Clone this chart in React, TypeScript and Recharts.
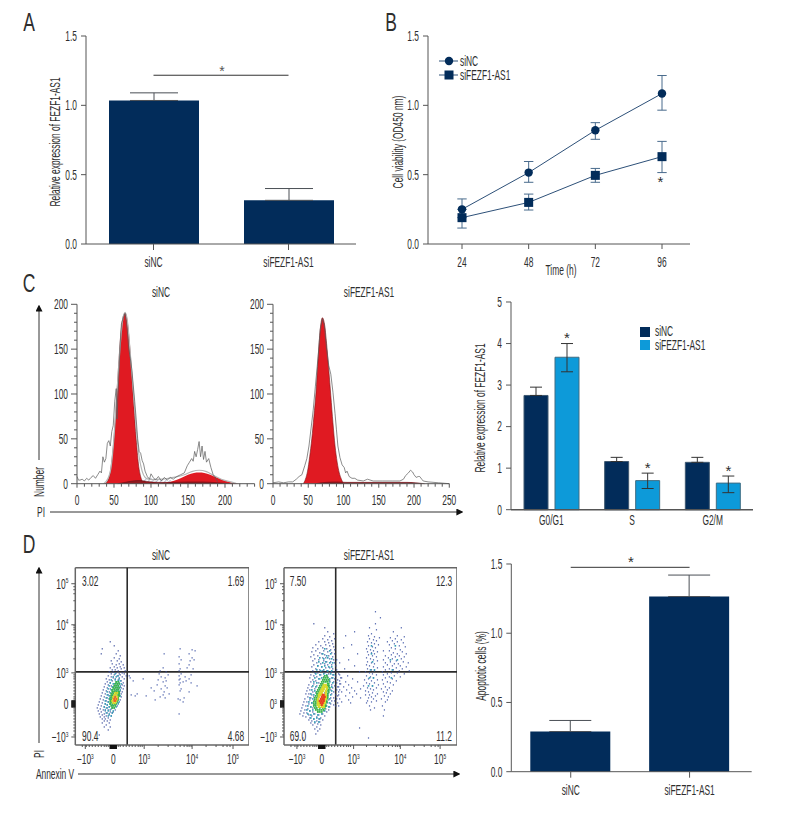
import React from 'react';
import {
  BarChart,
  Bar,
  LineChart,
  Line,
  ComposedChart,
  Area,
  ScatterChart,
  Scatter,
  XAxis,
  YAxis,
  ErrorBar,
  ReferenceLine,
  ReferenceDot,
  LabelList
} from 'recharts';

const FONT = '"Liberation Sans", sans-serif';
const INK = '#2e2e2e';
const AXIS = '#555';
const NAVY = '#022c5a';
const BLUE = '#0d9ad9';
const RED = '#e01a22';

// panel A
const exprGroups = ['siNC', 'siFEZF1-AS1'];
const exprMeans = [1.035, 0.315];
const exprTops = [1.09, 0.4];

// panel B
const hours = ['24', '48', '72', '96'];
const ncViability = [0.25, 0.515, 0.82, 1.085];
const ncLow = [0.19, 0.445, 0.755, 0.965];
const ncHigh = [0.325, 0.595, 0.875, 1.215];
const kdViability = [0.19, 0.3, 0.495, 0.63];
const kdLow = [0.115, 0.245, 0.445, 0.515];
const kdHigh = [0.25, 0.36, 0.545, 0.74];

// panel C, cell cycle histograms
const g1X = [38, 42, 45, 48, 50, 53, 56, 59, 62, 65, 68, 71, 74, 77, 80, 83, 86, 90];
const g1Y = [0, 4, 13, 32, 50, 88, 128, 165, 185, 190, 180, 155, 122, 85, 50, 22, 8, 0];
const g2X = [110, 120, 130, 140, 150, 158, 165, 172, 180, 190, 200, 210, 218];
const g2Y = [0, 1, 3, 6, 10, 12, 12.5, 12, 10, 6.5, 3.5, 1, 0];
const sPhaseX = [55, 65, 75, 85, 95, 110, 130, 150, 170, 190, 210];
const sPhaseY = [0, 1.5, 3, 3.5, 2.5, 1.5, 1.5, 2, 2, 1, 0];
const hatchX = [84, 90, 96, 102, 110, 118, 126, 134];
const hatchY = [0, 6, 7, 6, 5.5, 5, 4, 0];
const fitX = [36, 42, 46, 50, 54, 58, 62, 65, 68, 72, 76, 80, 84, 88, 92, 96, 102, 115, 130, 145, 155, 165, 175, 185, 195, 205, 215];
const fitY = [0, 6, 18, 52, 102, 150, 184, 191, 182, 145, 104, 62, 30, 14, 7, 5, 4.5, 5, 7, 10, 13.5, 15, 13.5, 9, 5, 2.5, 0.5];
const rawNcX = [0, 2, 4, 7, 10, 13, 16, 19, 22, 25, 28, 31, 33, 35, 37, 39, 41, 43, 45, 47, 49, 51, 53, 54, 56, 58, 60, 63, 65, 68, 70, 72, 74, 76, 78, 80, 82, 84, 86, 88, 90, 92, 95, 98, 100, 103, 106, 110, 114, 118, 122, 126, 130, 135, 140, 145, 149, 152, 155, 157, 159, 161, 163, 165, 167, 169, 171, 173, 175, 178, 181, 184, 186, 190];
const rawNcY = [8, 4, 4, 5, 3, 6, 4, 7, 9, 6, 10, 14, 12, 30, 24, 28, 45, 48, 42, 58, 65, 92, 106, 72, 110, 150, 178, 186, 190, 170, 150, 140, 128, 110, 92, 72, 50, 36, 34, 26, 22, 14, 8, 5, 11, 7, 4, 8, 3, 7, 4, 7, 5, 8, 10, 12, 20, 24, 28, 25, 36, 30, 38, 47, 30, 42, 27, 36, 24, 28, 18, 10, 8, 2];
const g1KdX = [43, 46, 49, 52, 55, 58, 61, 64, 67, 70, 73, 76, 79, 82, 85, 88, 91, 94, 97, 100];
const g1KdY = [0, 5, 14, 30, 50, 75, 102, 140, 172, 185, 178, 156, 128, 98, 68, 42, 24, 12, 5, 0];
const sPhaseKdX = [60, 75, 90, 105, 130, 160, 190, 215];
const sPhaseKdY = [0, 1.5, 2, 1.5, 1.5, 1.5, 1.5, 0];
const rawKdX = [0, 8, 15, 22, 28, 33, 37, 41, 45, 48, 51, 54, 57, 60, 64, 67, 70, 73, 76, 79, 82, 85, 88, 90, 92, 95, 98, 101, 103, 105, 108, 112, 116, 120, 128, 134, 142, 155, 170, 180, 185, 188, 192, 195, 198, 200, 203, 206, 208, 211, 213, 220, 235, 250];
const rawKdY = [1, 2, 1, 2, 2, 5, 8, 10, 20, 28, 42, 62, 82, 108, 142, 172, 184, 176, 150, 132, 122, 102, 78, 60, 42, 29, 21, 18, 12, 14, 8, 6, 6, 4, 3, 5, 3, 3, 3, 3, 5, 9, 12, 15, 13, 10, 7, 8, 8, 5, 3, 2, 1, 0];
const histTicksY = [0, 10, 20, 30, 40, 50, 60, 70, 80, 90, 100, 110, 120, 130, 140, 150, 160, 170, 180, 190, 200];
const histTicksNcX = [0, 10, 20, 30, 40, 50, 60, 70, 80, 90, 100, 110, 120, 130, 140, 150, 160, 170, 180, 190, 200, 210, 220, 230, 240];
const histTicksKdX = [...histTicksNcX, 250];

// panel C, phase bars
const phases = ['G0/G1', 'S', 'G2/M'];
const phaseNc = [2.75, 1.16, 1.14];
const phaseNcTop = [2.95, 1.26, 1.26];
const phaseKd = [3.67, 0.7, 0.64];
const phaseKdLow = [3.32, 0.51, 0.41];
const phaseKdTop = [4.0, 0.88, 0.81];

// panel D, flow plots: positions on the display channel of the biexponential axis
const flowMajorXNc = [-28, 0, 31, 79, 120];
const flowMajorXKd = [-25, 0, 32, 79, 119];
const flowMajorY = [-33, 0, 31, 79, 120];
const flowMinor = [-31, -27, -24, -21, -18, -15, -12, -9, -7, -5, -3, -2, -1, 1, 2, 3, 5, 7, 10, 13, 16, 19, 22, 25, 27, 29, 45, 55, 62, 67, 71, 74, 76, 78, 93, 103, 110, 114, 117];
const gateX = 14;
const gateY = 32;

type Row = [number, number[]];
const ncBlue: Row[] = [
  [62, [-3]], [58, [1]], [55, [-11]], [53, [5]], [50, [-12, 3]], [48, [7]], [46, [1]], [45, [6]], [43, [-2, 4]], [42, [8]], [40, [-1, 6]], [39, [3, 10]],
  [37, [1, 7]], [36, [-3, 4, 11]], [35, [8]], [34, [-1, 2]], [33, [5, 12]], [32, [-4, 0]], [31, [3, 9]], [30, [-2, 6, 11]], [29, [1, 7]], [28, [-5, 4, 13]],
  [27, [-2, 9]], [26, [0, 6]], [25, [-7, 2, 11]], [24, [-4, 5]], [23, [-1, 8]], [22, [-6, 3]], [21, [-3, 6, 10]], [20, [-8, 1]], [19, [-5, 4, 9]], [18, [-2, 7, 11]],
  [17, [-9, 0]], [16, [-6, 3, 8]], [15, [-3, 5, 10]], [14, [-10, -1]], [13, [-7, 2, 7]], [12, [-4, 5, 9]], [11, [-11, -1]], [10, [-8, 3, 8]], [9, [-5, 0, 6]],
  [8, [-12, -3]], [7, [-9, 2, 8]], [6, [-6, -1, 5]], [5, [-13, -4]], [4, [-10, 1, 7]], [3, [-7, -2, 4]], [2, [-14, -5]], [1, [-11, 0, 5]], [0, [-8, -3]],
  [-1, [-15, -6, 2]], [-2, [-12, -1, 4]], [-3, [-9, -4]], [-4, [-16, -7, 1]], [-5, [-13, -2]], [-6, [-10, -5, 2]], [-7, [-15, -8]], [-8, [-12, -3, 0]],
  [-9, [-6, -1]], [-10, [-14, -9]], [-11, [-11, -4]], [-12, [-7, -2]], [-13, [-13, -9]], [-14, [-5]], [-15, [-11, -8]], [-16, [-3]], [-17, [-9, -6]],
  [-19, [-11, -4]], [-21, [-7]], [-23, [-9, -3]], [-26, [-5]], [-31, [-14]]
];
const ncSparse: Row[] = [
  [55, [67]], [54, [79]], [53, [82]], [50, [51, 76]], [47, [66]], [46, [79]], [44, [68, 81]], [43, [77]], [40, [66]], [39, [76]], [36, [50, 74]], [35, [67, 80]],
  [33, [47, 66]], [32, [53]], [30, [46, 68]], [29, [55, 78]], [28, [16, 66]], [27, [48, 72]], [26, [17, 52]], [25, [30, 67, 76]], [24, [45, 66]], [23, [20, 53, 73]],
  [22, [50, 70]], [21, [67, 78]], [19, [44, 66]], [18, [52, 84]], [16, [38, 54]], [15, [48, 68]], [13, [41, 67]], [12, [51, 76]], [10, [24, 56]], [9, [18, 50]],
  [8, [22, 33]], [7, [47]], [6, [52, 71]], [5, [65]], [4, [42, 67]], [2, [70]], [-10, [66]]
];
const ncCyan: Row[] = [
  [30, [2]], [28, [5]], [27, [0, 3]], [25, [6]], [24, [-2, 2]], [23, [5, 7]], [21, [-3, 3]], [20, [0, 6, 8]], [18, [-4, 2]], [17, [-1, 5, 7]], [15, [-5, 1]], [14, [-2, 4, 7]],
  [12, [-6, 0]], [11, [-3, 3, 6]], [9, [-6, -1, 5]], [8, [-4, 2, 7]], [6, [-7, -2, 1]], [5, [-4, 5]], [3, [-8, -2]], [2, [-5, 6]], [0, [-8, -3, 5]], [-1, [-6, -1]],
  [-3, [-9, -4, 3]], [-4, [-6, -1]], [-6, [-8, -3]], [-7, [-5, 0]], [-9, [-7, -1]], [-10, [-4]], [-12, [-5, -2]]
];
const ncGreen: Row[] = [
  [22, [3, 5]], [20, [2, 4, 6]], [18, [1, 3, 5]], [16, [0, 2, 4, 6]], [14, [-1, 1, 3, 5]], [12, [-1, 1, 3, 5, 6]],
  [10, [-2, 0, 3, 5, 6]], [8, [-2, -1, 5, 6]], [6, [-3, -1, 5]], [4, [-3, -2, 5]], [2, [-3, -2, 4]], [0, [-3, -1, 1, 3]],
  [-2, [-2, 0, 2]], [-4, [-1, 1]]
];
const ncYellow: Row[] = [[11, [2, 4]], [9, [1, 3]], [7, [0, 4]], [5, [0, 4]], [3, [-1, 3]], [1, [0, 2]]];
const ncRed: Row[] = [[7, [2]], [5, [1, 3]], [3, [1, 2]]];

const kdBlue: Row[] = [
  [80, [-8]], [76, [3]], [72, [6]], [70, [12]], [68, [3]], [67, [8]], [65, [1, 13]], [64, [6]], [63, [10]], [62, [-3, 3]], [61, [7]], [60, [11]], [59, [-6, 4]],
  [58, [-1, 8]], [57, [12]], [56, [-9, 1]], [55, [5, -4]], [54, [9, 13]], [53, [-6, 2]], [52, [-10, 6]], [51, [-2, 10]], [50, [0, 13]], [49, [-8, 3]], [48, [-4, 7]],
  [47, [11, -11]], [46, [1, 4]], [45, [-7, 8]], [44, [-3, 12, 15]], [43, [-9, 2]], [42, [5, 9]], [41, [-5, 13]], [40, [-1, 3]], [39, [-8, 6, 10]], [38, [-4, 14]],
  [37, [0, -10]], [36, [4, 8]], [35, [-6, 11]], [34, [-2, 15]], [33, [-9, 1, 5]], [32, [9, 12]], [31, [-7, -4, 3]], [30, [7, 17]], [29, [-11, -1, 11]], [28, [-8, 14]],
  [27, [-5, 2, 6]], [26, [10, 19, -12]], [25, [-2, 13]], [24, [-9, 1, 16]], [23, [-6, 5, 8]], [22, [-11, 12]], [21, [-3, 15]], [20, [-8, 0, 18]], [19, [-13, 4, 10]],
  [18, [-5, 7, 13]], [17, [-10, 16]], [16, [-14, -2, 11]], [15, [-7, 5]], [14, [-12, 9, 15]], [13, [-4, -15]], [12, [-9, 12, 17]], [11, [-6, 3, 7]], [10, [-16, -13, 10]],
  [9, [-10, 14]], [8, [-4, 16, 6]], [7, [-14, -8]], [6, [-11, 12, 9]], [5, [-17, -5, 15]], [4, [-12, 7]], [3, [-8, 10, 13]], [2, [-18, -15]], [1, [-10, -6, 6, 16]],
  [0, [-13, 9]], [-1, [-19, -7, 12]], [-2, [-16, 5, 14]], [-3, [-11, 8]], [-4, [-20, -9]], [-5, [-14, -6, 4]], [-6, [-17, 7]], [-7, [-21, -12, 2]], [-8, [-9, -4, 5]],
  [-9, [-18, -15]], [-10, [-22, -7, 1]], [-11, [-13, -3]], [-12, [-19, -10, 3]], [-13, [-16, -5]], [-14, [-12, -1]], [-15, [-8, -3]], [-16, [-13, 1]], [-17, [-10, -5]],
  [-18, [-2]], [-19, [-11, -7]], [-20, [-4]], [-21, [-9, -1]], [-23, [-5]], [-25, [-7, -2]], [-27, [-4]], [-30, [-6]], [-34, [-19]]
];
const kdRight: Row[] = [
  [92, [54]], [86, [59]], [80, [54]], [76, [48, 80]], [74, [55]], [72, [33, 72]], [70, [50]], [68, [24, 47, 76]], [67, [53, 83]], [66, [58, 69]], [65, [48, 74]], [64, [52, 80]],
  [63, [55, 71]], [62, [46, 66, 76]], [61, [50, 82]], [60, [53, 73]], [59, [30, 57, 68]], [58, [47, 78]], [57, [51, 84]], [56, [22, 54, 70]], [55, [45, 74]], [54, [49, 79]],
  [53, [52, 62, 68]], [52, [46, 56, 81]], [51, [50, 72]], [50, [36, 53, 76, 85]], [49, [47, 70]], [48, [51, 78, 64]], [47, [55, 74, 83]], [46, [45, 67]], [45, [49, 71, 80]],
  [44, [27, 52, 62]], [43, [56, 75]], [42, [46, 69, 82]], [41, [18, 50, 64, 87]], [40, [53, 73, 77]], [39, [45, 66]], [38, [33, 48, 71, 79]], [37, [52, 62, 85]], [36, [56, 75]],
  [35, [23, 46, 68, 81]], [34, [50, 64, 72]], [33, [53, 78, 88]], [32, [38, 44, 61]], [31, [48, 70, 76]], [30, [51, 66, 83]], [29, [18, 55, 62]], [28, [26, 45, 73]], [27, [49, 68, 79]],
  [26, [20, 52, 64]], [25, [31, 47, 71]], [24, [43, 56, 61]], [23, [18, 50, 75]], [22, [24, 36, 66]], [21, [45, 53, 69]], [20, [19, 48, 62]], [19, [27, 57, 72]], [18, [42, 51]],
  [17, [17, 22, 64]], [16, [30, 46, 55, 68]], [15, [39, 49, 60]], [14, [18, 25, 52, 66]], [13, [33, 44, 71]], [12, [20, 47, 62]], [11, [28, 51, 65]], [10, [35, 56, 69]],
  [9, [17, 44, 48]], [8, [24, 54, 63]], [7, [31, 50, 67]], [6, [39, 47]], [5, [18, 52, 60]], [4, [27, 66]], [3, [46, 55]], [2, [20, 50, 64]], [1, [29, 45]],
  [-2, [17, 48, 61]], [-4, [53]], [-6, [49, 63]], [-12, [62]], [-24, [38]], [-34, [47]]
];
const kdCyan: Row[] = [
  [55, [3]], [53, [8]], [50, [1, 9]], [48, [5]], [46, [-2, 6]], [45, [2, 10]], [42, [-3, 4]], [41, [1, 8, 11]], [38, [-4, 3]], [37, [0, 7, 10]], [34, [-5, 2]], [33, [-1, 6, 10]],
  [30, [-6, 2, 9]], [29, [-2, 5, 12]], [26, [-7, 0, 11]], [25, [-3, 8]], [22, [-8, 8]], [21, [-5, 11]], [18, [-9, 7]], [17, [-6, 10]], [14, [-10, 7]], [13, [-7, 10]],
  [10, [-11, 6]], [9, [-8, 9]], [6, [-12, 5]], [5, [-9, 8]], [2, [-13, 5]], [1, [-10, 8]], [-2, [-14, 4]], [-3, [-11, 7]], [-6, [-15, -9]], [-7, [-12, 3]], [-10, [-14, -8, 0]],
  [-11, [-11, -4]], [-14, [-11, -5]], [-15, [-8, -2]], [-18, [-7, -3]],
  [58, [50, 74]], [50, [50]], [44, [69, 76]], [42, [51]], [34, [49, 53, 71]], [26, [48, 52, 70]], [18, [47, 51]]
];
const kdGreen: Row[] = [
  [28, [3, 5]], [26, [2, 4, 6]], [24, [1, 3, 5, 7]], [22, [0, 2, 4, 6]], [20, [-1, 1, 6, 7]], [18, [-2, 0, 6, 7]], [16, [-3, -1, 6, 8]], [14, [-4, -2, 6, 7]],
  [12, [-5, -3, 5, 7]], [10, [-5, -4, 6]], [8, [-6, -4, 5, 6]], [6, [-7, -5, 5, 6]], [4, [-7, -5, 5]], [2, [-8, -6, 5]], [0, [-8, -6, 4]], [-2, [-8, -6, 3, 4]],
  [-4, [-7, -5, -2, 1, 3]], [-6, [-6, -4, -2, 0, 2]], [-8, [-4, -2, 0]]
];
const kdYellow: Row[] = [
  [19, [2, 4]], [17, [1, 3, 5]], [15, [0, 2, 5]], [13, [-1, 1, 4]], [11, [-2, 0, 4]], [9, [-3, -1, 4]], [7, [-3, 4]], [5, [-4, 3, 4]], [3, [-4, 3]],
  [1, [-4, -2, 3]], [-1, [-4, -2, 2]], [-3, [-3, 0, 2]]
];
const kdRed: Row[] = [[9, [1, 2]], [7, [0, 2, 3]], [5, [-1, 1, 2]], [3, [-2, 0, 2]], [1, [-1, 1]], [-1, [0]]];

// panel D, apoptosis bars
const apopMeans = [0.29, 1.265];
const apopTops = [0.37, 1.42];

const zip = (xs: number[], ys: number[]) => xs.map((x, i) => ({ x, y: ys[i] }));
const flatten = (rows: Row[]) => rows.flatMap(([y, xs]) => xs.map((x) => ({ x, y })));

const exprData = exprGroups.map((name, i) => ({ name, value: exprMeans[i], top: exprTops[i] }));
const apopData = exprGroups.map((name, i) => ({ name, value: apopMeans[i], top: apopTops[i] }));
const viabilityData = hours.map((time, i) => ({
  time,
  nc: ncViability[i],
  ncErr: [ncViability[i] - ncLow[i], ncHigh[i] - ncViability[i]],
  kd: kdViability[i],
  kdErr: [kdViability[i] - kdLow[i], kdHigh[i] - kdViability[i]]
}));
const phaseData = phases.map((name, i) => ({
  name,
  nc: phaseNc[i],
  ncErr: [0, phaseNcTop[i] - phaseNc[i]],
  kd: phaseKd[i],
  kdErr: [phaseKd[i] - phaseKdLow[i], phaseKdTop[i] - phaseKd[i]]
}));

// no condensed face is installed, so squeeze Liberation Sans horizontally
const Cond = ({ x, y, children, size = 14, anchor = 'middle', rotate = 0, fill = INK, sx = 0.6 }: any) => (
  <text
    transform={`translate(${x} ${y}) rotate(${rotate}) scale(${sx} 1)`}
    textAnchor={anchor}
    dominantBaseline="central"
    fontSize={size}
    fontFamily={FONT}
    fill={fill}
  >
    {children}
  </text>
);

const yTick = (majors: number[], fmt: (v: number) => any = String, len = 5, minor = 3, gap = 4, blob = false) => (p: any) => {
  const v = p.payload.value;
  const isMajor = majors.includes(v);
  const near = blob && Math.abs(v) <= 3;
  return (
    <g>
      <line
        x1={p.x}
        x2={p.x - (isMajor ? len : near ? 4 : minor)}
        y1={p.y}
        y2={p.y}
        stroke={near ? '#111' : AXIS}
        strokeWidth={near ? 1.5 : 1}
      />
      {isMajor && <Cond x={p.x - len - gap} y={p.y} anchor="end">{fmt(v)}</Cond>}
    </g>
  );
};

const xTick = (majors: any[] | null, fmt: (v: any) => any = String, len = 5, minor = 3, labelAt = 16, blob = false) => (p: any) => {
  const v = p.payload.value;
  const isMajor = majors ? majors.includes(v) : true;
  const near = blob && Math.abs(v) <= 3;
  return (
    <g>
      {len > 0 && (
        <line
          x1={p.x}
          x2={p.x}
          y1={p.y}
          y2={p.y + (isMajor ? len : near ? 4 : minor)}
          stroke={near ? '#111' : AXIS}
          strokeWidth={near ? 1.5 : 1}
        />
      )}
      {isMajor && <Cond x={p.x} y={p.y + labelAt}>{fmt(v)}</Cond>}
    </g>
  );
};

const Pow = ({ base, exp }: any) => (
  <>
    <tspan>{base}</tspan>
    {exp && <tspan dy={-4} fontSize={8}>{exp}</tspan>}
  </>
);
const powerX = (majors: number[]) => (v: number) => {
  const i = majors.indexOf(v);
  return i === 1 ? '0' : <Pow base={i === 0 ? '\u221210' : '10'} exp={['3', '', '3', '4', '5'][i]} />;
};
const powerYNc = (v: number) => {
  const i = flowMajorY.indexOf(v);
  return i === 1 ? '0' : <Pow base={i === 0 ? '\u221210' : '10'} exp={['3', '', '3', '4', '5'][i]} />;
};
const powerYKd = (v: number) => {
  const i = flowMajorY.indexOf(v);
  return <Pow base={i === 0 ? '\u221210' : i === 1 ? '0' : '10'} exp={['3', '3', '3', '4', '5'][i]} />;
};

const StarLabel = (tops: number[], means: number[], pxPerUnit: number) => (p: any) => {
  const box = p.viewBox || p;
  const cx = box.x + box.width / 2;
  const cy = box.y - (tops[p.index] - means[p.index]) * pxPerUnit - 6;
  return <Cond x={cx} y={cy} size={15} sx={1}>*</Cond>;
};

const dotShape = (size: number) => (p: any) => (
  <rect x={p.cx - size / 2} y={p.cy - size / 2} width={size} height={size} fill={p.fill} />
);

const CircleDot = (p: any) => <circle cx={p.cx} cy={p.cy} r={4.2} fill={NAVY} />;
const SquareDot = (p: any) => <rect x={p.cx - 4.5} y={p.cy - 4.5} width={9} height={9} fill={NAVY} />;

const place = (left: number, top: number): React.CSSProperties => ({ position: 'absolute', left, top });

const BarPanel = ({ data, left, top, height, width, yWidth, ticks, bracketY, capWidth, padRight = 0 }: any) => (
  <div style={place(left, top)}>
    <BarChart width={width} height={height} data={data} margin={{ top: 10, right: 0, left: 0, bottom: 0 }}>
      <XAxis
        dataKey="name"
        height={30}
        stroke={AXIS}
        tickLine={false}
        tickSize={0}
        tickMargin={0}
        interval={0}
        padding={{ left: 0, right: padRight }}
        tick={xTick(null, String, 6, 3, 18)}
      />
      <YAxis
        width={yWidth}
        domain={[0, 1.5]}
        ticks={ticks}
        stroke={AXIS}
        tickLine={false}
        tickSize={0}
        tickMargin={0}
        interval={0}
        tick={yTick(ticks, (v) => v.toFixed(1))}
      />
      <Bar dataKey="value" fill={NAVY} barSize={capWidth.bar} isAnimationActive={false}>
        <ErrorBar dataKey={(d: any) => [0, d.top - d.value]} width={capWidth.cap} stroke="#4a4f55" strokeWidth={1} />
      </Bar>
      <ReferenceLine
        segment={[{ x: data[0].name, y: bracketY }, { x: data[1].name, y: bracketY }]}
        stroke="#333"
        strokeWidth={1}
      />
    </BarChart>
  </div>
);

const Histogram = ({ left, width, yWidth, domainMax, xTicks, red, dark, hatch, fit, raw, id, extra }: any) => (
  <div style={place(left, 296)}>
    <ComposedChart width={width} height={217.7} margin={{ top: 8.3, right: 14, left: 0, bottom: 0 }}>
      <defs>
        <pattern id={id} width="3" height="3" patternUnits="userSpaceOnUse" patternTransform="rotate(45)">
          <rect width="3" height="3" fill="#fff" />
          <line x1="0" y1="0" x2="0" y2="3" stroke="#6f7fa8" strokeWidth="1" />
        </pattern>
      </defs>
      <XAxis
        type="number"
        dataKey="x"
        domain={[0, domainMax]}
        ticks={xTicks}
        height={30}
        stroke={AXIS}
        tickLine={false}
        tickSize={0}
        tickMargin={0}
        interval={0}
        tick={xTick([0, 50, 100, 150, 200, 250], String, 4, 3, 16)}
      />
      <YAxis
        type="number"
        dataKey="y"
        width={yWidth}
        domain={[0, 200]}
        ticks={histTicksY}
        stroke={AXIS}
        tickLine={false}
        tickSize={0}
        tickMargin={0}
        interval={0}
        tick={yTick([0, 50, 100, 150, 200], String, 6, 3, 3)}
      />
      {hatch && <Area data={hatch} dataKey="y" type="monotone" stroke="none" fill={`url(#${id})`} fillOpacity={1} dot={false} isAnimationActive={false} />}
      <Area data={red} dataKey="y" type="monotone" stroke="#7a1418" strokeWidth={0.6} fill={RED} fillOpacity={1} dot={false} isAnimationActive={false} />
      {extra && <Area data={extra} dataKey="y" type="monotone" stroke="none" fill={RED} fillOpacity={1} dot={false} isAnimationActive={false} />}
      <Area data={dark} dataKey="y" type="monotone" stroke="#5d0f14" strokeWidth={0.5} fill="#8f1a20" fillOpacity={1} dot={false} isAnimationActive={false} />
      {fit && <Line data={fit} dataKey="y" type="monotone" stroke="#b5b5b5" strokeWidth={1.2} dot={false} isAnimationActive={false} />}
      <Line data={raw} dataKey="y" type="linear" stroke="#5a5a5a" strokeWidth={0.7} dot={false} isAnimationActive={false} />
    </ComposedChart>
  </div>
);

const flowLayers = (layers: [Row[], string, number][]) =>
  layers.map(([rows, color, size], i) => (
    <Scatter key={i} data={flatten(rows)} fill={color} shape={dotShape(size)} isAnimationActive={false} />
  ));

const FlowPlot = ({ left, yWidth, width, majorsX, powerY, layers, labels }: any) => (
  <div style={place(left, 558)}>
    <ScatterChart width={width} height={217} margin={{ top: 9.7, right: 0, left: 0, bottom: 0 }}>
      <XAxis
        type="number"
        dataKey="x"
        domain={[-38, 136]}
        ticks={[...majorsX, ...flowMinor]}
        height={30}
        stroke="#666"
        strokeWidth={1.5}
        tickLine={false}
        tickSize={0}
        tickMargin={0}
        interval={0}
        tick={xTick(majorsX, powerX(majorsX), 4, 2, 14, true)}
      />
      <YAxis
        type="number"
        dataKey="y"
        width={yWidth}
        domain={[-41, 136]}
        ticks={[...flowMajorY, ...flowMinor.filter((v) => v > -41)]}
        stroke="#666"
        strokeWidth={1.5}
        tickLine={false}
        tickSize={0}
        tickMargin={0}
        interval={0}
        tick={yTick(flowMajorY, powerY, 4, 2, 3, true)}
      />
      {flowLayers(layers)}
      <ReferenceLine x={136} stroke="#666" strokeWidth={1.5} />
      <ReferenceLine y={136} stroke="#666" strokeWidth={1.5} />
      <ReferenceLine x={gateX} stroke="#2b2b2b" strokeWidth={1.6} />
      <ReferenceLine y={gateY} stroke="#2b2b2b" strokeWidth={1.6} />
      {labels.map((l: any) => (
        <ReferenceDot
          key={l.text}
          x={l.x}
          y={l.y}
          r={0}
          stroke="none"
          label={(p: any) => <Cond x={p.viewBox.x + p.viewBox.width / 2} y={p.viewBox.y + p.viewBox.height / 2}>{l.text}</Cond>}
        />
      ))}
    </ScatterChart>
  </div>
);

const Overlay = () => (
  <svg width={786} height={828} style={{ position: 'absolute', left: 0, top: 0, pointerEvents: 'none' }}>
    <defs>
      <marker id="arrow" viewBox="0 0 10 10" refX="8" refY="5" markerWidth="7" markerHeight="7" orient="auto-start-reverse">
        <path d="M0 0 L10 5 L0 10 Z" fill="#111" />
      </marker>
    </defs>
    <Cond x={29} y={22} size={25} sx={0.7}>A</Cond>
    <Cond x={391} y={22} size={25} sx={0.7}>B</Cond>
    <Cond x={29} y={283} size={25} sx={0.7}>C</Cond>
    <Cond x={29} y={544} size={25} sx={0.7}>D</Cond>

    <Cond x={55} y={142} rotate={-90}>Relative expression of FEZF1-AS1</Cond>
    <Cond x={398} y={142} rotate={-90}>Cell viability (OD450 nm)</Cond>
    <Cond x={561} y={270}>Time (h)</Cond>
    <Cond x={480} y={408} rotate={-90}>Relative expression of FEZF1-AS1</Cond>
    <Cond x={481} y={666} rotate={-90}>Apoptotic cells (%)</Cond>

    <Cond x={222} y={71} size={14} sx={1} fill="#555">*</Cond>
    <Cond x={631} y={561} size={15} sx={1}>*</Cond>
    <Cond x={660.5} y={181} size={15} sx={1}>*</Cond>

    <line x1={439} x2={458} y1={61} y2={61} stroke="#2d5078" />
    <circle cx={449} cy={61} r={4.2} fill={NAVY} />
    <Cond x={460} y={61} anchor="start">siNC</Cond>
    <line x1={439} x2={458} y1={75} y2={75} stroke="#2d5078" />
    <rect x={444.5} y={70.5} width={9} height={9} fill={NAVY} />
    <Cond x={460} y={75} anchor="start">siFEZF1-AS1</Cond>

    <rect x={640} y={327} width={10} height={10} fill={NAVY} />
    <Cond x={655} y={331} anchor="start">siNC</Cond>
    <rect x={640} y={340} width={10} height={10} fill={BLUE} />
    <Cond x={655} y={345} anchor="start">siFEZF1-AS1</Cond>

    <Cond x={161} y={292}>siNC</Cond>
    <Cond x={369} y={292}>siFEZF1-AS1</Cond>
    <Cond x={161} y={555}>siNC</Cond>
    <Cond x={369} y={555}>siFEZF1-AS1</Cond>

    <line x1={39} x2={39} y1={460} y2={306} stroke="#333" markerEnd="url(#arrow)" />
    <Cond x={39} y={482} rotate={-90}>Number</Cond>
    <Cond x={41} y={512}>PI</Cond>
    <line x1={50} x2={462} y1={512} y2={512} stroke="#333" markerEnd="url(#arrow)" />

    <line x1={39} x2={39} y1={743} y2={568} stroke="#333" markerEnd="url(#arrow)" />
    <Cond x={39} y={754} rotate={-90}>PI</Cond>
    <Cond x={55} y={774}>Annexin V</Cond>
    <line x1={78} x2={459} y1={774} y2={774} stroke="#333" markerEnd="url(#arrow)" />
  </svg>
);

const App: React.FC = () => {
  const yTicksExpr = [0, 0.5, 1, 1.5];
  const yTicksPhase = [0, 1, 2, 3, 4, 5];
  return (
    <div style={{ position: 'absolute', left: 0, top: 0, width: 786, height: 828, background: '#fff' }}>
      <BarPanel
        data={exprData}
        left={36}
        top={26}
        width={320}
        height={248}
        yWidth={50}
        ticks={yTicksExpr}
        bracketY={1.217}
        capWidth={{ bar: 90, cap: 24 }}
      />

      <div style={place(378, 26)}>
        <LineChart width={312} height={248} data={viabilityData} margin={{ top: 10, right: 0, left: 0, bottom: 0 }}>
          <XAxis
            dataKey="time"
            height={30}
            stroke={AXIS}
            tickLine={false}
            tickSize={0}
            tickMargin={0}
            interval={0}
            padding={{ left: 34, right: 28 }}
            tick={xTick(null, String, 5, 3, 18)}
          />
          <YAxis
            width={50}
            domain={[0, 1.5]}
            ticks={yTicksExpr}
            stroke={AXIS}
            tickLine={false}
            tickSize={0}
            tickMargin={0}
            interval={0}
            tick={yTick(yTicksExpr, (v) => v.toFixed(1))}
          />
          <Line dataKey="nc" stroke="#2d5078" strokeWidth={1} dot={CircleDot} isAnimationActive={false}>
            <ErrorBar dataKey="ncErr" width={4.7} stroke="#486a8c" strokeWidth={1} />
          </Line>
          <Line dataKey="kd" stroke="#2d5078" strokeWidth={1} dot={SquareDot} isAnimationActive={false}>
            <ErrorBar dataKey="kdErr" width={4.7} stroke="#486a8c" strokeWidth={1} />
          </Line>
        </LineChart>
      </div>

      <Histogram
        id="hatchNc"
        left={40}
        width={228.6}
        yWidth={37}
        domainMax={240}
        xTicks={histTicksNcX}
        red={zip(g1X, g1Y)}
        extra={zip(g2X, g2Y)}
        dark={zip(sPhaseX, sPhaseY)}
        hatch={zip(hatchX, hatchY)}
        fit={zip(fitX, fitY)}
        raw={zip(rawNcX, rawNcY)}
      />
      <Histogram
        id="hatchKd"
        left={240}
        width={223.3}
        yWidth={33}
        domainMax={250}
        xTicks={histTicksKdX}
        red={zip(g1KdX, g1KdY)}
        dark={zip(sPhaseKdX, sPhaseKdY)}
        raw={zip(rawKdX, rawKdY)}
      />

      <div style={place(470, 292)}>
        <BarChart
          width={283}
          height={247.7}
          data={phaseData}
          barSize={24}
          barGap={7}
          margin={{ top: 10, right: 0, left: 0, bottom: 0 }}
        >
          <XAxis
            dataKey="name"
            height={30}
            stroke={AXIS}
            strokeWidth={1.5}
            tickLine={false}
            tickSize={0}
            tickMargin={0}
            interval={0}
            tick={xTick(null, String, 0, 0, 10)}
          />
          <YAxis
            width={41}
            domain={[0, 5]}
            ticks={yTicksPhase}
            stroke={AXIS}
            tickLine={false}
            tickSize={0}
            tickMargin={0}
            interval={0}
            tick={yTick(yTicksPhase, String, 5, 3, 4)}
          />
          <Bar dataKey="nc" fill={NAVY} stroke="#3f5870" isAnimationActive={false}>
            <ErrorBar dataKey="ncErr" width={6} stroke="#333" strokeWidth={1} />
          </Bar>
          <Bar dataKey="kd" fill={BLUE} stroke="#3f6c84" isAnimationActive={false}>
            <ErrorBar dataKey="kdErr" width={6} stroke="#333" strokeWidth={1} />
            <LabelList dataKey="kd" content={StarLabel(phaseKdTop, phaseKd, 41.5)} />
          </Bar>
        </BarChart>
      </div>

      <FlowPlot
        left={40}
        yWidth={35.3}
        width={209}
        majorsX={flowMajorXNc}
        powerY={powerYNc}
        layers={[
          [ncSparse, '#3f55a5', 1.2],
          [ncBlue, '#34479a', 1.2],
          [ncCyan, '#2f9db5', 1.5],
          [ncGreen, '#39b54a', 1.8],
          [ncYellow, '#d9d92b', 2],
          [ncRed, '#ee6a22', 2]
        ]}
        labels={[
          { text: '3.02', x: -23, y: 122.7 },
          { text: '1.69', x: 123, y: 122.7 },
          { text: '90.4', x: -23, y: -32 },
          { text: '4.68', x: 123, y: -32 }
        ]}
      />
      <FlowPlot
        left={250}
        yWidth={34}
        width={207}
        majorsX={flowMajorXKd}
        powerY={powerYKd}
        layers={[
          [kdRight, '#3f55a5', 1.2],
          [kdBlue, '#34479a', 1.2],
          [kdCyan, '#2f9db5', 1.6],
          [kdGreen, '#39b54a', 1.8],
          [kdYellow, '#d9d92b', 2.2],
          [kdRed, '#e8421f', 2.2]
        ]}
        labels={[
          { text: '7.50', x: -24, y: 122.7 },
          { text: '12.3', x: 123, y: 122.7 },
          { text: '69.0', x: -24, y: -32 },
          { text: '11.2', x: 123, y: -32 }
        ]}
      />

      <BarPanel
        data={apopData}
        left={470}
        top={554}
        width={281.7}
        height={247.7}
        yWidth={41.3}
        ticks={yTicksExpr}
        bracketY={1.476}
        capWidth={{ bar: 80, cap: 21 }}
        padRight={2.7}
      />

      <Overlay />
    </div>
  );
};

export default App;
